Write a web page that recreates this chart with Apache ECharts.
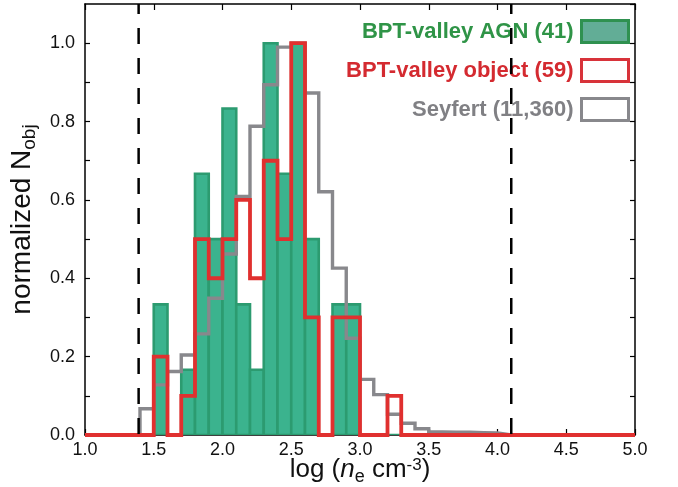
<!DOCTYPE html>
<html>
<head>
<meta charset="utf-8">
<script src="https://cdn.jsdelivr.net/npm/echarts@6/dist/echarts.min.js"></script>
<style>
  html, body { margin: 0; padding: 0; background: #fff; }
  #chart { width: 678px; height: 487px; }
</style>
</head>
<body>
<div id="chart"></div>
<script>
// Lower edges of the density bins, log(ne / cm^-3), bin width 0.1 dex
const binLower = [1.0, 1.1, 1.2, 1.3, 1.4, 1.5, 1.6, 1.7, 1.8, 1.9,
                  2.0, 2.1, 2.2, 2.3, 2.4, 2.5, 2.6, 2.7, 2.8, 2.9,
                  3.0, 3.1, 3.2, 3.3, 3.4, 3.5, 3.6, 3.7, 3.8, 3.9,
                  4.0, 4.1, 4.2, 4.3, 4.4, 4.5, 4.6, 4.7, 4.8, 4.9];
const binWidth = 0.1;

// BPT-valley AGN: number of objects per bin (41 in total)
const agnCounts = [0, 0, 0, 0, 0, 2, 0, 1, 4, 3,
                   5, 2, 1, 6, 4, 6, 3, 0, 2, 2,
                   0, 0, 0, 0, 0, 0, 0, 0, 0, 0,
                   0, 0, 0, 0, 0, 0, 0, 0, 0, 0];

// BPT-valley objects: number of objects per bin (59 in total)
const valleyCounts = [0, 0, 0, 0, 0, 2, 0, 1, 5, 4,
                      5, 6, 4, 7, 5, 10, 3, 0, 3, 3,
                      0, 0, 1, 0, 0, 0, 0, 0, 0, 0,
                      0, 0, 0, 0, 0, 0, 0, 0, 0, 0];

// Seyfert sample (11,360 galaxies), fraction of the peak bin
const seyfertNorm = [0, 0, 0, 0, 0.067, 0.128, 0.162, 0.204, 0.258, 0.349,
                     0.462, 0.609, 0.788, 0.894, 0.99, 1.0, 0.873, 0.621, 0.426, 0.247,
                     0.142, 0.103, 0.053, 0.030, 0.016, 0.008, 0.007, 0.007, 0.006, 0.005,
                     0, 0, 0, 0, 0, 0, 0, 0, 0, 0];

// Density range where the [S II] doublet ratio is sensitive
const densityLimits = [1.39, 4.1];

const seriesNames = ['BPT-valley AGN (41)', 'BPT-valley object (59)', 'Seyfert (11,360)'];

const FONT = '"Liberation Sans", Arial, Helvetica, sans-serif';
const X_MIN = 1.0, X_MAX = 5.0, Y_MIN = 0, Y_MAX = 1.1;

function normalise(counts) {
  const peak = Math.max.apply(null, counts);
  return counts.map(c => c / peak);
}

function binUpper(i) {
  return +(binLower[i] + binWidth).toFixed(2);
}

// Outline of a histogram: a flat segment across every bin, joined by vertical steps
function stepOutline(values) {
  const pts = [];
  values.forEach((v, i) => {
    pts.push([binLower[i], v]);
    pts.push([binUpper(i), v]);
  });
  return pts;
}

const agnNorm = normalise(agnCounts);
const valleyNorm = normalise(valleyCounts);

const agnBars = agnNorm.map((v, i) => [binLower[i], binUpper(i), v]);

const chart = echarts.init(document.getElementById('chart'), null, { renderer: 'canvas' });

const frameLine = { show: true, onZero: false, lineStyle: { color: '#000', width: 1.5 } };
const tickStyle = { inside: true, length: 6, lineStyle: { color: '#000', width: 1.2 } };

const option = {
  backgroundColor: '#fff',
  animation: false,
  grid: { left: 85, right: 43, top: 4, bottom: 52, containLabel: false, outerBoundsMode: 'none' },
  legend: {
    orient: 'vertical',
    align: 'right',
    right: 48,
    top: 19,
    padding: 0,
    itemWidth: 47,
    itemHeight: 22,
    itemGap: 14,
    selectedMode: false,
    textStyle: { fontFamily: FONT, fontSize: 22, fontWeight: 'bold', padding: [0, 3, 0, 0] },
    data: [
      { name: seriesNames[0], icon: 'rect',
        itemStyle: { color: '#62ad96', borderColor: '#2f9150', borderWidth: 3 },
        textStyle: { color: '#2f9447' } },
      { name: seriesNames[1], icon: 'rect',
        itemStyle: { color: '#ffffff', borderColor: '#d8333a', borderWidth: 3 },
        textStyle: { color: '#d42a30' } },
      { name: seriesNames[2], icon: 'rect',
        itemStyle: { color: '#ffffff', borderColor: '#88888c', borderWidth: 3 },
        textStyle: { color: '#808084' } }
    ]
  },
  xAxis: [
    {
      type: 'value', min: X_MIN, max: X_MAX, interval: 0.5, position: 'bottom',
      axisLine: frameLine, axisTick: tickStyle, splitLine: { show: false },
      axisLabel: { formatter: v => v.toFixed(1), fontFamily: FONT, fontSize: 18, color: '#111', margin: 6 },
      name: '{m|log (}{i|n}{sub|e}{m| cm}{sup|-3}{m|)}',
      nameLocation: 'middle',
      nameGap: 22,
      nameMoveOverlap: false,
      nameTextStyle: {
        fontFamily: FONT, color: '#111',
        rich: {
          m: { fontFamily: FONT, fontSize: 26, verticalAlign: 'top', color: '#111' },
          i: { fontFamily: FONT, fontSize: 26, verticalAlign: 'top', fontStyle: 'italic', color: '#111' },
          sub: { fontFamily: FONT, fontSize: 18, verticalAlign: 'top', padding: [11, 0, 0, 0], color: '#111' },
          sup: { fontFamily: FONT, fontSize: 17, verticalAlign: 'top', color: '#111' }
        }
      }
    },
    {
      type: 'value', min: X_MIN, max: X_MAX, interval: 0.5, position: 'top',
      axisLine: frameLine, axisTick: tickStyle, axisLabel: { show: false }, splitLine: { show: false }
    }
  ],
  yAxis: [
    {
      type: 'value', min: Y_MIN, max: Y_MAX, interval: 0.1, position: 'left',
      axisLine: frameLine, axisTick: { inside: true, length: 5, lineStyle: { color: '#000', width: 1.2 } },
      splitLine: { show: false },
      axisLabel: {
        fontFamily: FONT, fontSize: 18, color: '#111', margin: 10, showMaxLabel: false,
        formatter: v => (Math.round(v * 10) % 2 === 0 ? v.toFixed(1) : '')
      },
      name: '{m|normalized N}{sub|obj}',
      nameLocation: 'middle',
      nameGap: 40,
      nameTextStyle: {
        fontFamily: FONT, color: '#111',
        rich: {
          m: { fontFamily: FONT, fontSize: 28, verticalAlign: 'top', color: '#111' },
          sub: { fontFamily: FONT, fontSize: 19, verticalAlign: 'top', padding: [12, 0, 0, 0], color: '#111' }
        }
      }
    },
    {
      type: 'value', min: Y_MIN, max: Y_MAX, interval: 0.1, position: 'right',
      axisLine: frameLine, axisTick: { inside: true, length: 5, lineStyle: { color: '#000', width: 1.2 } },
      axisLabel: { show: false }, splitLine: { show: false }
    }
  ],
  series: [
    {
      name: seriesNames[0],
      type: 'custom',
      z: 2,
      data: agnBars,
      renderItem: function (params, api) {
        const h = api.value(2);
        const p0 = api.coord([api.value(0), h]);
        const p1 = api.coord([api.value(1), 0]);
        return {
          type: 'rect',
          shape: { x: p0[0], y: p0[1], width: p1[0] - p0[0], height: p1[1] - p0[1] },
          style: { fill: '#3bb38e', stroke: '#2c9b70', lineWidth: 2.6 }
        };
      },
      clip: true
    },
    {
      name: seriesNames[2],
      type: 'line',
      z: 3,
      data: stepOutline(seyfertNorm),
      showSymbol: false,
      symbol: 'none',
      lineStyle: { color: '#88888c', width: 3.4, join: 'miter' },
      itemStyle: { color: '#88888c' }
    },
    {
      name: seriesNames[1],
      type: 'line',
      z: 4,
      data: stepOutline(valleyNorm),
      showSymbol: false,
      symbol: 'none',
      lineStyle: { color: '#e0302f', width: 3.8, join: 'miter' },
      itemStyle: { color: '#e0302f' }
    },
    ...densityLimits.map(x => ({
      name: 'limit ' + x,
      type: 'line',
      z: 5,
      data: [[x, Y_MAX], [x, Y_MIN]],
      showSymbol: false,
      symbol: 'none',
      lineStyle: { color: '#000', width: 2.5, type: [16, 14], dashOffset: 6 }
    }))
  ]
};

chart.setOption(option);
</script>
</body>
</html>
